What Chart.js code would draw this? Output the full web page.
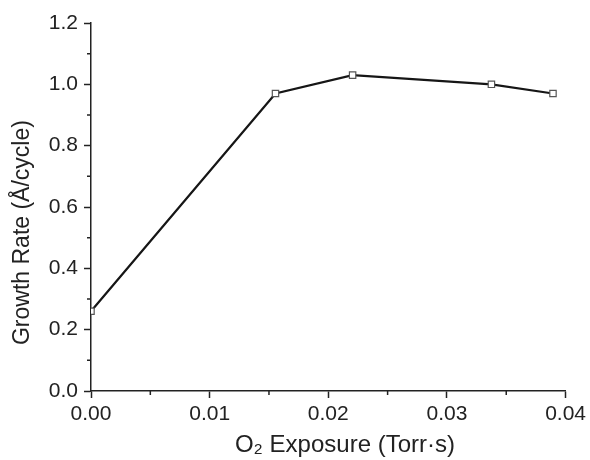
<!DOCTYPE html>
<html>
<head>
<meta charset="utf-8">
<script src="https://cdn.jsdelivr.net/npm/chart.js@4.4.1/dist/chart.umd.min.js"></script>
<style>
    html, body { margin: 0; padding: 0; background: #fff; }
    #wrap { width: 590px; height: 460px; }
</style>
</head>
<body>
<div id="wrap"><canvas id="growthChart" width="590" height="460"></canvas></div>
<script>
// O2 exposure (Torr·s) vs growth per cycle (Å/cycle)
var exposure = [0.0, 0.01555, 0.02205, 0.03375, 0.03894];
var growthRate = [0.26, 0.97, 1.03, 1.0, 0.97];
var xTicks = [0, 0.01, 0.02, 0.03, 0.04];
var yTicks = [0, 0.2, 0.4, 0.6, 0.8, 1.0, 1.2];

(function growthPlot () {
    'use strict';

    var ink = '#222222';
    var face = 'Liberation Sans, Arial, sans-serif';
    var points = exposure.map(function (x, i) {
        return { x: x, y: growthRate[i] };
    });

    // short ticks half way between the labelled ones
    var minorTicks = {
        id: 'minorTicks',
        afterDraw: function (chart) {
            var ctx = chart.ctx;
            var xs = chart.scales.x;
            var ys = chart.scales.y;
            ctx.save();
            ctx.strokeStyle = ink;
            ctx.lineWidth = 1.5;
            ctx.beginPath();
            for (var i = 0; i < xTicks.length - 1; i++) {
                var px = xs.getPixelForValue((xTicks[i] + xTicks[i + 1]) / 2);
                ctx.moveTo(px, xs.top);
                ctx.lineTo(px, xs.top + 4);
            }
            for (var j = 0; j < yTicks.length - 1; j++) {
                var py = ys.getPixelForValue((yTicks[j] + yTicks[j + 1]) / 2);
                ctx.moveTo(ys.right, py);
                ctx.lineTo(ys.right - 4, py);
            }
            ctx.stroke();
            ctx.restore();
        }
    };

    var ctx = document.getElementById('growthChart').getContext('2d');

    new Chart(ctx, {
        type: 'line',
        data: {
            datasets: [{
                data: points,
                borderColor: '#161616',
                borderWidth: 2.2,
                pointStyle: 'rect',
                pointRadius: 4.5,
                pointBorderWidth: 1.2,
                pointBorderColor: '#555555',
                pointBackgroundColor: '#ffffff',
                tension: 0
            }]
        },
        options: {
            responsive: false,
            animation: false,
            layout: { padding: { top: 23, right: 22, left: 0, bottom: 0 } },
            plugins: {
                legend: { display: false },
                tooltip: { enabled: false }
            },
            scales: {
                x: {
                    type: 'linear',
                    min: 0,
                    max: 0.04,
                    afterFit: function (scale) { scale.height = 69; },
                    afterBuildTicks: function (scale) {
                        scale.ticks = xTicks.map(function (v) { return { value: v }; });
                    },
                    ticks: {
                        color: ink,
                        padding: 4,
                        maxRotation: 0,
                        font: { family: face, size: 21 },
                        callback: function (v) { return v.toFixed(2); }
                    },
                    grid: {
                        drawOnChartArea: false,
                        drawTicks: true,
                        tickLength: 7,
                        tickColor: ink,
                        tickWidth: 1.5
                    },
                    border: { color: ink, width: 1.5 },
                    title: {
                        display: true,
                        // leading spaces nudge the caption right of centre
                        text: '     O₂ Exposure (Torr·s)',
                        color: ink,
                        padding: { top: 3, bottom: 0 },
                        font: { family: face, size: 24 }
                    }
                },
                y: {
                    min: 0,
                    max: 1.2,
                    afterFit: function (scale) { scale.width = 91; },
                    afterBuildTicks: function (scale) {
                        scale.ticks = yTicks.map(function (v) { return { value: v }; });
                    },
                    ticks: {
                        color: ink,
                        padding: 6,
                        font: { family: face, size: 21 },
                        callback: function (v) { return v.toFixed(1); }
                    },
                    grid: {
                        drawOnChartArea: false,
                        drawTicks: true,
                        tickLength: 7,
                        tickColor: ink,
                        tickWidth: 1.5
                    },
                    border: { color: ink, width: 1.5 },
                    title: {
                        display: true,
                        // trailing spaces push the caption down the axis
                        text: 'Growth Rate (Å/cycle)        ',
                        color: ink,
                        padding: { top: 9, bottom: 0 },
                        font: { family: face, size: 23 }
                    }
                }
            }
        },
        plugins: [minorTicks]
    });
}());
</script>
</body>
</html>
